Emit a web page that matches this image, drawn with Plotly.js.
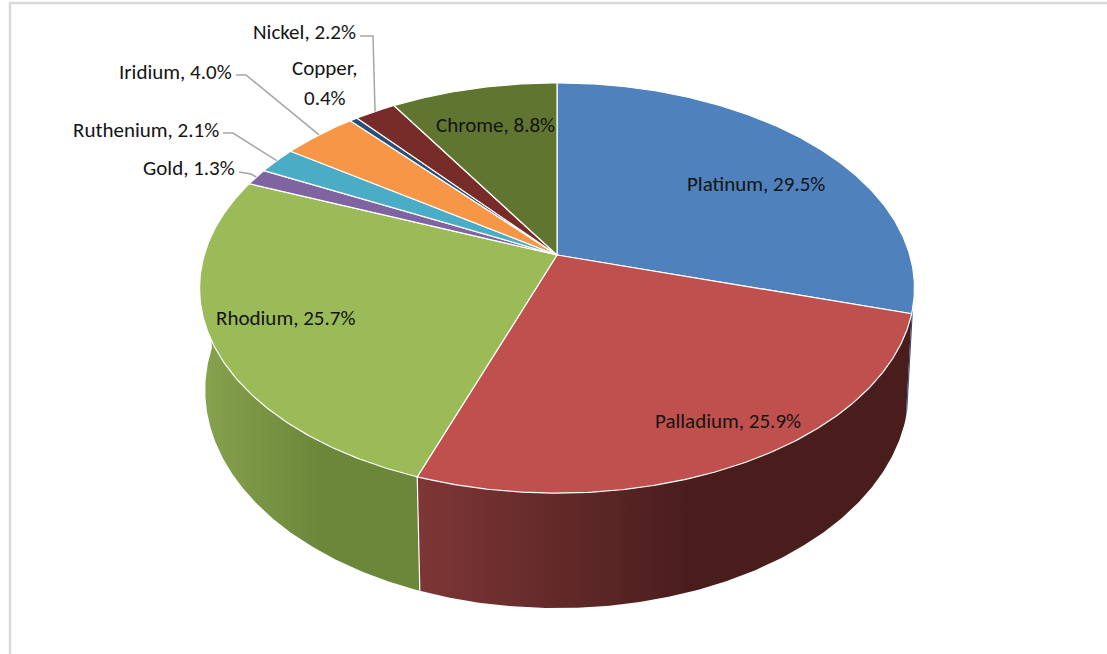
<!DOCTYPE html>
<html>
<head>
<meta charset="utf-8">
<script src="https://cdn.plot.ly/plotly-3.0.1.min.js"></script>
<style>html,body{margin:0;padding:0;background:#fff;}#chart{width:1107px;height:654px;}</style>
</head>
<body>
<div id="chart"></div>
<script>
// ---- data ----
const names = ['Platinum','Palladium','Rhodium','Gold','Ruthenium','Iridium','Copper','Nickel','Chrome'];
const values = [29.5, 25.9, 25.7, 1.3, 2.1, 4.0, 0.4, 2.2, 8.8];
const topColors = ['#4f81bd','#c0504d','#9bbb59','#8064a2','#4bacc6','#f79646','#2c4d75','#772c2a','#5f7530'];
const wallLight = ['#3f6797','#7e3636','#88a34e','#66507f','#3b8a9e','#c57738','#233d5d','#5f2321','#4c5d26'];
const wallDark  = ['#2f4d71','#4a1d1d','#6a873a','#4d3c60','#2c6777','#945a2a','#1a2e46','#471a19','#39461c'];

// ---- projection of the tilted disc (perspective) ----
const CX = 557, CY = 255, FX = 1800, FY = 1786;
const R = 0.196, H = 0.0696, ALPHA = 34.8 * Math.PI / 180, DEPTH_PERSP = 0.4;
function proj(thetaDeg, Y) {
  const t = thetaDeg * Math.PI / 180;
  const X = R * Math.sin(t), Z = R * Math.cos(t);
  const v = Z * Math.sin(ALPHA) + Y * Math.cos(ALPHA);
  const w = 1 + Z * Math.cos(ALPHA) - Y * Math.sin(ALPHA) * DEPTH_PERSP;
  return [CX + FX * X / w, CY - FY * v / w];
}

const total = values.reduce((a, b) => a + b, 0);
const starts = [], ends = [];
let acc = 0;
values.forEach(v => { starts.push(acc / total * 360); acc += v; ends.push(acc / total * 360); });

function arc(a, b, Y) {
  const pts = [];
  const n = Math.max(2, Math.ceil((b - a) / 0.5));
  for (let i = 0; i <= n; i++) pts.push(proj(a + (b - a) * i / n, Y));
  return pts;
}

const traces = [];
// walls: only the visible front part of the rim
const FRONT_A = 104, FRONT_B = 272;
values.forEach((v, i) => {
  const a = Math.max(starts[i], FRONT_A), b = Math.min(ends[i], FRONT_B);
  if (b <= a) return;
  const top = arc(a, b, 0);
  const bot = arc(a, b, -H).reverse();
  const pts = top.concat(bot);
  pts.push(top[0]);
  traces.push({
    type: 'scatter', mode: 'lines', x: pts.map(p => p[0]), y: pts.map(p => p[1]),
    fill: 'toself', fillcolor: wallDark[i],
    fillgradient: {type: 'horizontal', colorscale: [[0, wallLight[i]], [0.55, wallDark[i]], [1, wallDark[i]]]},
    line: {color: wallDark[i], width: 0}, hoverinfo: 'skip', showlegend: false
  });
});
// white edges between walls
starts.forEach(s => {
  if (s > FRONT_A + 20 && s < FRONT_B - 20) {
    const p = proj(s, 0), q = proj(s, -H);
    traces.push({type: 'scatter', mode: 'lines', x: [p[0], q[0]], y: [p[1], q[1]],
      line: {color: '#ffffff', width: 1.2}, hoverinfo: 'skip', showlegend: false});
  }
});
// top faces
values.forEach((v, i) => {
  const pts = [[CX, CY]].concat(arc(starts[i], ends[i], 0));
  pts.push([CX, CY]);
  traces.push({
    type: 'scatter', mode: 'lines', x: pts.map(p => p[0]), y: pts.map(p => p[1]),
    fill: 'toself', fillcolor: topColors[i],
    line: {color: '#ffffff', width: 1.2}, hoverinfo: 'skip', showlegend: false, name: names[i]
  });
});

// ---- labels ----
const FONT = {family: 'Liberation Sans Narrow, Arial Narrow, Carlito, sans-serif', size: 21, color: '#141414'};
const lbl = i => names[i] + ', ' + values[i].toFixed(1) + '%';
const annotations = [];
function addLabel(text, x, y, xanchor) {
  annotations.push({text: text, x: x, y: y, xref: 'x', yref: 'y', showarrow: false,
    xanchor: xanchor, yanchor: 'middle', font: FONT});
}
addLabel(lbl(0), 756, 184, 'center');
addLabel(lbl(1), 728, 421, 'center');
addLabel(lbl(2), 285, 318, 'center');
addLabel(lbl(8), 495, 125, 'center');
addLabel(lbl(3), 237, 168, 'right');
addLabel(lbl(4), 221, 130, 'right');
addLabel(lbl(5), 234, 72, 'right');
addLabel(names[6] + ',', 325, 68, 'center');
addLabel(values[6].toFixed(1) + '%', 325, 98, 'center');
addLabel(lbl(7), 358, 32, 'right');

// leader lines to the rim at each slice's middle angle
const mid = i => (starts[i] + ends[i]) / 2;
const leaders = [
  {i: 3, pts: [[239, 172], [251, 174]]},
  {i: 4, pts: [[223, 133], [233, 133]]},
  {i: 5, pts: [[236, 75], [246, 75]]},
  {i: 7, pts: [[360, 36], [373, 36]]}
];
leaders.forEach(L => {
  const end = proj(mid(L.i), 0);
  const pts = L.pts.concat([end]);
  traces.push({type: 'scatter', mode: 'lines', x: pts.map(p => p[0]), y: pts.map(p => p[1]),
    line: {color: '#a6a6a6', width: 1.5}, hoverinfo: 'skip', showlegend: false});
});

const layout = {
  width: 1107, height: 654,
  margin: {l: 0, r: 0, t: 0, b: 0},
  paper_bgcolor: '#ffffff', plot_bgcolor: '#ffffff',
  xaxis: {range: [0, 1107], visible: false, fixedrange: true},
  yaxis: {range: [654, 0], visible: false, fixedrange: true},
  showlegend: false,
  annotations: annotations,
  shapes: [{type: 'rect', xref: 'x', yref: 'y', x0: 10, y0: 3, x1: 1130, y1: 680,
    line: {color: '#d9d9d9', width: 2.5}, fillcolor: 'rgba(0,0,0,0)', layer: 'below'}]
};
Plotly.newPlot('chart', traces, layout, {staticPlot: true, displayModeBar: false});
</script>
</body>
</html>
